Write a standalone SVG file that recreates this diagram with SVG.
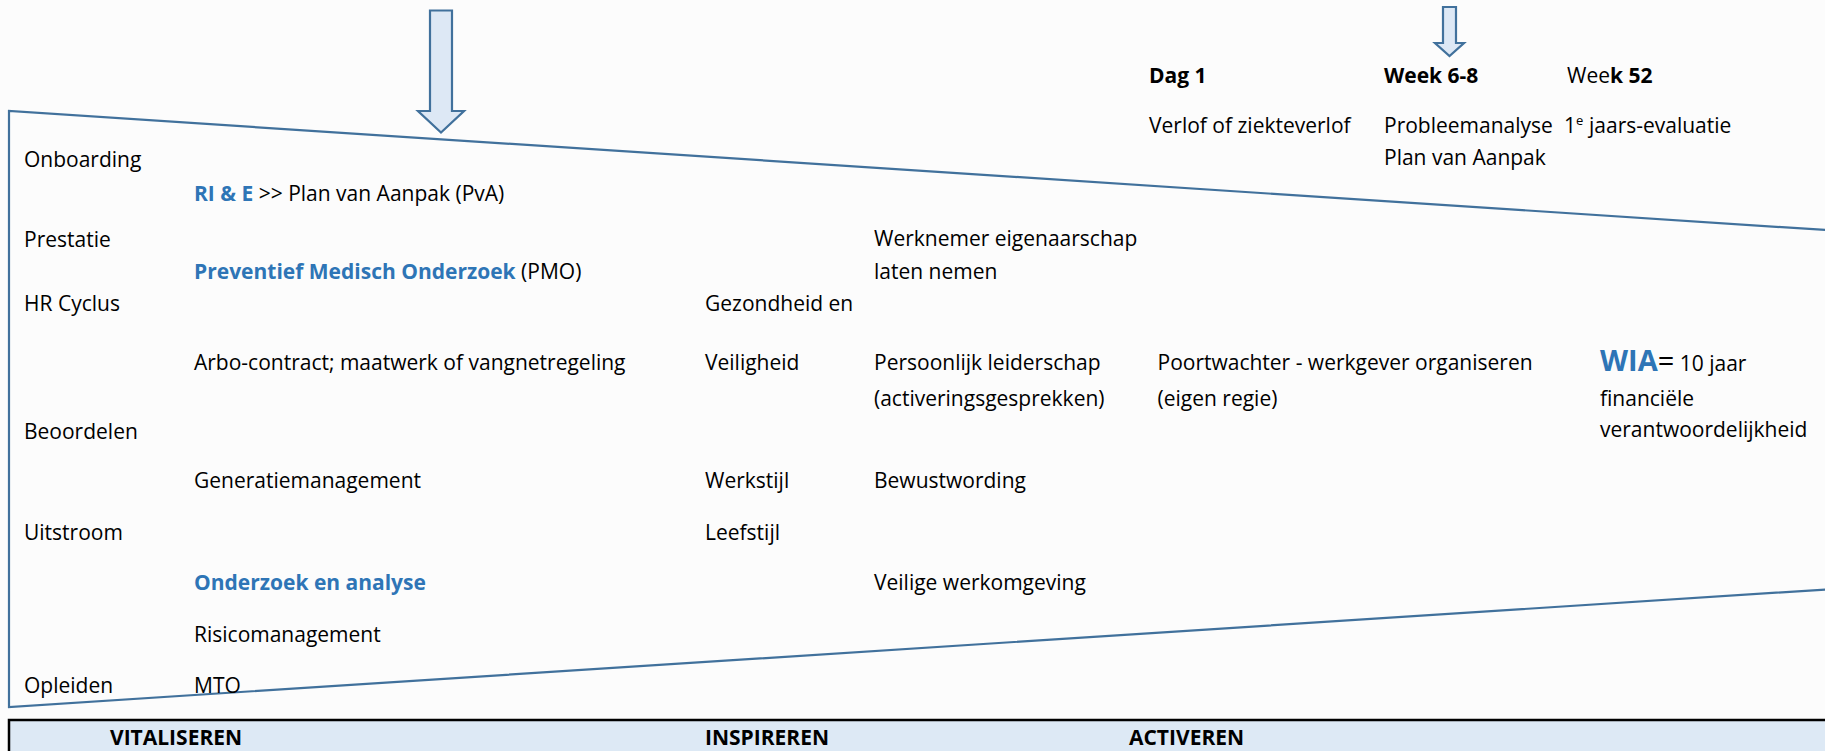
<svg xmlns="http://www.w3.org/2000/svg" width="1825" height="751" viewBox="0 0 1825 751">
<style>
text{font-family:"Open Sans","Noto Sans",sans-serif;font-size:21px;fill:#000}
.b{font-weight:bold}
.bl{font-weight:bold;fill:#2e75b6}
.ln{fill:none;stroke:#41719c;stroke-width:2.2}
.arrow{fill:#dde8f5;stroke:#41719c;stroke-width:2.2;stroke-linejoin:miter}
.hd{font-weight:bold}
</style>
<rect x="0" y="0" width="1825" height="751" fill="#fcfcfc"/>
<g id="connectors">
<polyline class="ln" points="1830,230.3 9,111 9,707 1830,589.2"/>
</g>
<g id="arrow-main"><path class="arrow" d="M430,10.5 H452 V111 H464 L441,132.5 L418,111 H430 Z"/></g>
<g id="arrow-week"><path class="arrow" d="M1443,7 H1456 V43 H1464 L1449.5,56 L1435,43 H1443 Z"/></g>
<g id="timeline">
<text x="1149" y="83" class="b">Dag 1</text>
<text x="1384" y="83" class="b">Week 6-8</text>
<text x="1567" y="83">Wee<tspan class="b">k 52</tspan></text>
<text x="1149" y="133">Verlof of ziekteverlof</text>
<text x="1384" y="133">Probleemanalyse</text>
<text x="1384" y="165">Plan van Aanpak</text>
<text x="1564" y="133">1<tspan font-size="13" dy="-8">e</tspan><tspan x="1589" dy="8">jaars-evaluatie</tspan></text>
</g>
<g id="hr-cycle">
<text x="24" y="167">Onboarding</text>
<text x="24" y="247">Prestatie</text>
<text x="24" y="311">HR Cyclus</text>
<text x="24" y="438.5">Beoordelen</text>
<text x="24" y="540">Uitstroom</text>
<text x="24" y="692.5">Opleiden</text>
</g>
<g id="vitaliseren-items">
<text x="194" y="201"><tspan class="bl">RI &amp; E</tspan> &gt;&gt; Plan van Aanpak (PvA)</text>
<text x="194" y="279"><tspan class="bl">Preventief Medisch Onderzoek</tspan> (PMO)</text>
<text x="194" y="370">Arbo-contract; maatwerk of vangnetregeling</text>
<text x="194" y="487.5">Generatiemanagement</text>
<text x="194" y="590" class="bl">Onderzoek en analyse</text>
<text x="194" y="641.5">Risicomanagement</text>
<text x="194" y="692.5">MTO</text>
</g>
<g id="inspireren-items">
<text x="705" y="311">Gezondheid en</text>
<text x="705" y="370">Veiligheid</text>
<text x="705" y="487.5">Werkstijl</text>
<text x="705" y="540">Leefstijl</text>
</g>
<g id="activeren-items">
<text x="874" y="246">Werknemer eigenaarschap</text>
<text x="874" y="278.5">laten nemen</text>
<text x="874" y="370">Persoonlijk leiderschap</text>
<text x="874" y="406">(activeringsgesprekken)</text>
<text x="874" y="487.5">Bewustwording</text>
<text x="874" y="590">Veilige werkomgeving</text>
<text x="1157.5" y="370">Poortwachter - werkgever organiseren</text>
<text x="1157.5" y="405.5">(eigen regie)</text>
</g>
<g id="wia">
<text x="1600" y="370.5"><tspan class="bl" font-size="29">WIA</tspan><tspan font-size="29">=</tspan> 10 jaar</text>
<text x="1600" y="405.5">financiële</text>
<text x="1600" y="437">verantwoordelijkheid</text>
</g>
<g id="phase-band">
<rect x="9" y="720" width="1830" height="60" fill="#dde9f5" stroke="#000" stroke-width="2.5"/>
<text x="110" y="745" class="hd">VITALISEREN</text>
<text x="705" y="745" class="hd">INSPIREREN</text>
<text x="1129" y="745" class="hd">ACTIVEREN</text>
</g>
</svg>
